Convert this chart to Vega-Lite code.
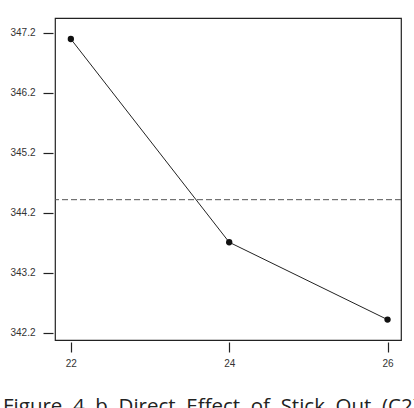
{
  "$schema": "https://vega.github.io/schema/vega-lite/v6.json",
  "autosize": "none",
  "width": 346,
  "height": 322,
  "padding": {"left": 55, "top": 18, "right": 13, "bottom": 68},
  "background": "white",
  "config": {
    "view": {"stroke": "#222", "strokeWidth": 1.2},
    "axis": {"grid": false, "domain": false, "tickColor": "#222", "tickSize": 10, "tickWidth": 1.2, "offset": 2, "labelFont": "Liberation Sans", "labelFontSize": 10, "labelColor": "#333", "title": null}
  },
  "title": {
    "text": "Figure\u00a0 4\u00a0 b\u00a0 Direct\u00a0 Effect\u00a0 of\u00a0 Stick\u00a0 Out\u00a0 (C2)",
    "orient": "bottom",
    "anchor": "start",
    "frame": "group",
    "font": "Open Sans",
    "fontSize": 20.5,
    "fontWeight": "normal",
    "color": "#222",
    "offset": 29,
    "dx": -52
  },
  "datasets": {
    "pts": [
      {"stickout": 22, "effect": 347.1},
      {"stickout": 24, "effect": 343.71},
      {"stickout": 26, "effect": 342.42}
    ],
    "mean": [{"effect": 344.42}]
  },
  "layer": [
    {
      "data": {"name": "mean"},
      "mark": {"type": "rule", "color": "#555", "strokeWidth": 1, "strokeDash": [6, 3]},
      "encoding": {"y": {"field": "effect", "type": "quantitative"}}
    },
    {
      "data": {"name": "pts"},
      "mark": {"type": "line", "color": "#222", "strokeWidth": 1},
      "encoding": {
        "x": {"field": "stickout", "type": "quantitative", "scale": {"domain": [21.8, 26.17], "nice": false, "zero": false}, "axis": {"values": [22, 24, 26], "format": "d", "labelPadding": 6}},
        "y": {"field": "effect", "type": "quantitative", "scale": {"domain": [342.08, 347.45], "nice": false, "zero": false}, "axis": {"values": [342.2, 343.2, 344.2, 345.2, 346.2, 347.2], "format": ".1f", "labelPadding": 8}}
      }
    },
    {
      "data": {"name": "pts"},
      "mark": {"type": "point", "filled": true, "color": "#111", "size": 40, "opacity": 1},
      "encoding": {
        "x": {"field": "stickout", "type": "quantitative"},
        "y": {"field": "effect", "type": "quantitative"}
      }
    }
  ]
}
